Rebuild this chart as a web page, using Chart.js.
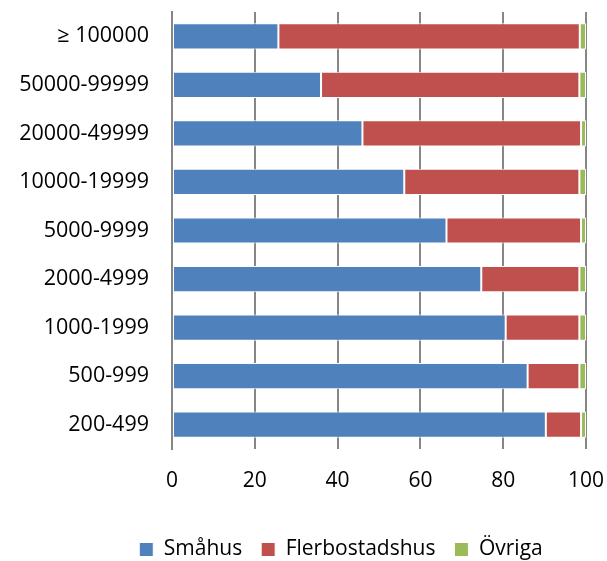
<!DOCTYPE html>
<html>
<head>
<meta charset="utf-8">
<script src="https://cdn.jsdelivr.net/npm/chart.js@4.4.0/dist/chart.umd.min.js"></script>
<style>
  body { margin: 0; background: #fff; }
  #wrap { width: 607px; height: 561px; }
</style>
</head>
<body>
<div id="wrap"><canvas id="housing_chart" width="607" height="561"></canvas></div>
<script>
var categories = ["\u2265 100000", "50000-99999", "20000-49999", "10000-19999", "5000-9999", "2000-4999", "1000-1999", "500-999", "200-499"];
var smahus = [25.7, 36.0, 46.0, 56.1, 66.3, 74.7, 80.6, 85.9, 90.3];
var flerbostadshus = [72.8, 62.4, 52.8, 42.3, 32.5, 23.7, 17.8, 12.5, 8.5];
var ovriga = [1.5, 1.6, 1.2, 1.6, 1.2, 1.6, 1.6, 1.6, 1.2];
var xTicks = [0, 20, 40, 60, 80, 100];

var font = "'Open Sans', 'DejaVu Sans', sans-serif";

// the legend sits right of the canvas centre and a little lower in the original
var legendShift = {
    id: "legendShift",
    afterLayout: function(chart) {
        chart.legend.left += 48;
        chart.legend.right += 48;
        chart.legend.top += 9;
        chart.legend.bottom += 9;
    }
};

//stacked horizontal bar chart
var chartdata = {
    labels: categories,
    datasets: [{
        label: "Småhus",
        backgroundColor: "#4F81BD",
        borderColor: "#ffffff",
        borderWidth: 1,
        borderSkipped: false,
        data: smahus,
    }, {
        label: "Flerbostadshus",
        backgroundColor: "#C0504D",
        borderColor: "#ffffff",
        borderWidth: 1,
        borderSkipped: false,
        data: flerbostadshus,
    }, {
        label: "Övriga",
        backgroundColor: "#9BBB59",
        borderColor: "#ffffff",
        borderWidth: 1,
        borderSkipped: false,
        data: ovriga,
    }, ],
};

var canvas = document.getElementById("housing_chart");

var housing_chart = new Chart(canvas, {
    type: "bar",
    data: chartdata,
    plugins: [legendShift],
    options: {
        indexAxis: "y",
        responsive: false,
        animation: false,
        layout: {
            padding: { top: 12, right: 21, left: 0, bottom: 0 }
        },
        datasets: {
            bar: { categoryPercentage: 1, barPercentage: 0.54 }
        },
        plugins: {
            tooltip: { enabled: false },
            legend: {
                position: "bottom",
                labels: {
                    boxWidth: 14,
                    boxHeight: 14,
                    padding: 19,
                    color: "#000",
                    font: { family: font, size: 21 }
                }
            }
        },
        scales: {
            x: {
                stacked: true,
                min: 0,
                max: 100,
                afterBuildTicks: function(scale) {
                    scale.ticks = xTicks.map(function(v) { return { value: v }; });
                },
                afterFit: function(scale) {
                    scale.height = 62;
                    scale.paddingLeft = 0;
                    scale.paddingRight = 0;
                },
                grid: {
                    color: "#868686",
                    lineWidth: 2,
                    drawTicks: false
                },
                border: { display: false },
                ticks: {
                    color: "#000",
                    padding: 19,
                    maxRotation: 0,
                    font: { family: font, size: 21 }
                }
            },
            y: {
                stacked: true,
                afterFit: function(scale) {
                    scale.width = 172;
                    scale.paddingTop = 0;
                    scale.paddingBottom = 0;
                },
                grid: { display: false, drawTicks: false },
                border: { display: true, color: "#868686", width: 2 },
                ticks: {
                    color: "#000",
                    padding: 23,
                    font: { family: font, size: 21.5 }
                }
            }
        }
    }
});
</script>
</body>
</html>
